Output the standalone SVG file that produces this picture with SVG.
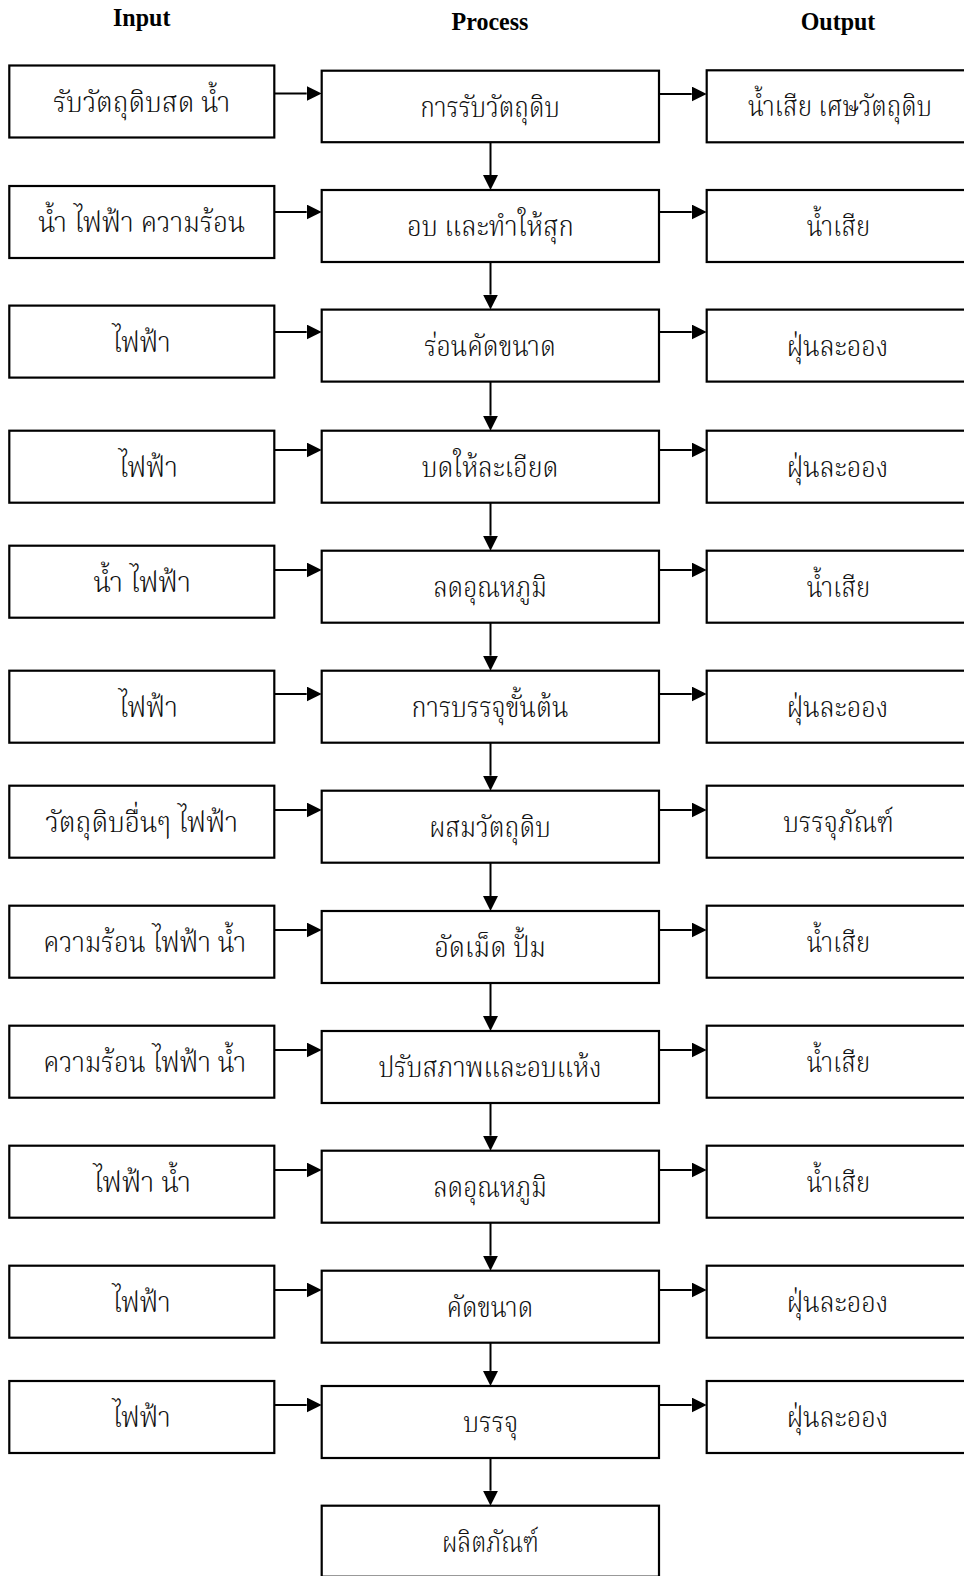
<svg xmlns="http://www.w3.org/2000/svg" width="964" height="1576" viewBox="0 0 964 1576">
<style>
.box{fill:#fff;stroke:#000;stroke-width:2.2}
.t{font-family:"Noto Serif Thai","Noto Sans Thai","Noto Sans",sans-serif;font-size:29px;font-weight:300;text-anchor:middle;fill:#111}
.h{font-family:"Liberation Serif","Times New Roman",serif;font-weight:bold;font-size:24px;text-anchor:middle;fill:#000}
.c{stroke:#000;stroke-width:2;fill:none}
</style>
<defs>
<marker id="ah" viewBox="0 0 15 15" refX="0" refY="7.5" markerWidth="15" markerHeight="15" markerUnits="userSpaceOnUse" orient="auto"><path d="M0,0 L15,7.5 L0,15 Z" fill="#000"/></marker>
</defs>
<rect width="964" height="1576" fill="#fff"/>
<g id="headers">
<text class="h" transform="translate(141.7,26) scale(1,1.09)">Input</text>
<text class="h" transform="translate(490,30) scale(1,1.09)">Process</text>
<text class="h" transform="translate(838,30) scale(1,1.09)">Output</text>
</g>
<g id="connectors">
<line class="c" x1="274.3" y1="93.5" x2="306.7" y2="93.5" marker-end="url(#ah)"/>
<line class="c" x1="659" y1="94" x2="691.7" y2="94" marker-end="url(#ah)"/>
<line class="c" x1="490.5" y1="142.7" x2="490.5" y2="175" marker-end="url(#ah)"/>
<line class="c" x1="274.3" y1="212" x2="306.7" y2="212" marker-end="url(#ah)"/>
<line class="c" x1="659" y1="212" x2="691.7" y2="212" marker-end="url(#ah)"/>
<line class="c" x1="490.5" y1="262" x2="490.5" y2="294.6" marker-end="url(#ah)"/>
<line class="c" x1="274.3" y1="332" x2="306.7" y2="332" marker-end="url(#ah)"/>
<line class="c" x1="659" y1="332" x2="691.7" y2="332" marker-end="url(#ah)"/>
<line class="c" x1="490.5" y1="381.6" x2="490.5" y2="415.7" marker-end="url(#ah)"/>
<line class="c" x1="274.3" y1="450" x2="306.7" y2="450" marker-end="url(#ah)"/>
<line class="c" x1="659" y1="450" x2="691.7" y2="450" marker-end="url(#ah)"/>
<line class="c" x1="490.5" y1="502.7" x2="490.5" y2="535.7" marker-end="url(#ah)"/>
<line class="c" x1="274.3" y1="570" x2="306.7" y2="570" marker-end="url(#ah)"/>
<line class="c" x1="659" y1="570" x2="691.7" y2="570" marker-end="url(#ah)"/>
<line class="c" x1="490.5" y1="622.7" x2="490.5" y2="655.7" marker-end="url(#ah)"/>
<line class="c" x1="274.3" y1="694" x2="306.7" y2="694" marker-end="url(#ah)"/>
<line class="c" x1="659" y1="694" x2="691.7" y2="694" marker-end="url(#ah)"/>
<line class="c" x1="490.5" y1="742.7" x2="490.5" y2="775.7" marker-end="url(#ah)"/>
<line class="c" x1="274.3" y1="810" x2="306.7" y2="810" marker-end="url(#ah)"/>
<line class="c" x1="659" y1="810" x2="691.7" y2="810" marker-end="url(#ah)"/>
<line class="c" x1="490.5" y1="862.7" x2="490.5" y2="896" marker-end="url(#ah)"/>
<line class="c" x1="274.3" y1="930" x2="306.7" y2="930" marker-end="url(#ah)"/>
<line class="c" x1="659" y1="930" x2="691.7" y2="930" marker-end="url(#ah)"/>
<line class="c" x1="490.5" y1="983" x2="490.5" y2="1016" marker-end="url(#ah)"/>
<line class="c" x1="274.3" y1="1050" x2="306.7" y2="1050" marker-end="url(#ah)"/>
<line class="c" x1="659" y1="1050" x2="691.7" y2="1050" marker-end="url(#ah)"/>
<line class="c" x1="490.5" y1="1103" x2="490.5" y2="1135.7" marker-end="url(#ah)"/>
<line class="c" x1="274.3" y1="1170" x2="306.7" y2="1170" marker-end="url(#ah)"/>
<line class="c" x1="659" y1="1170" x2="691.7" y2="1170" marker-end="url(#ah)"/>
<line class="c" x1="490.5" y1="1222.7" x2="490.5" y2="1255.7" marker-end="url(#ah)"/>
<line class="c" x1="274.3" y1="1290" x2="306.7" y2="1290" marker-end="url(#ah)"/>
<line class="c" x1="659" y1="1290" x2="691.7" y2="1290" marker-end="url(#ah)"/>
<line class="c" x1="490.5" y1="1342.7" x2="490.5" y2="1371" marker-end="url(#ah)"/>
<line class="c" x1="274.3" y1="1405" x2="306.7" y2="1405" marker-end="url(#ah)"/>
<line class="c" x1="659" y1="1405" x2="691.7" y2="1405" marker-end="url(#ah)"/>
<line class="c" x1="490.5" y1="1458" x2="490.5" y2="1490.7" marker-end="url(#ah)"/>
</g>
<g id="in1"><rect class="box" x="9.3" y="65.5" width="265" height="72"/><text class="t" x="141.7" y="111.7" textLength="177" lengthAdjust="spacingAndGlyphs">รับวัตถุดิบสด  น้ำ</text></g>
<g id="pr1"><rect class="box" x="321.7" y="70.7" width="337.3" height="71.5"/><text class="t" x="490" y="116.7" textLength="139.7" lengthAdjust="spacingAndGlyphs">การรับวัตถุดิบ</text></g>
<g id="out1"><rect class="box" x="706.7" y="70.3" width="264" height="72"/><text class="t" x="840" y="116.3" textLength="184" lengthAdjust="spacingAndGlyphs">น้ำเสีย เศษวัตถุดิบ</text></g>

<g id="in2"><rect class="box" x="9.3" y="186" width="265" height="72"/><text class="t" x="141.7" y="232" textLength="207" lengthAdjust="spacingAndGlyphs">น้ำ ไฟฟ้า ความร้อน</text></g>
<g id="pr2"><rect class="box" x="321.7" y="190" width="337.3" height="72"/><text class="t" x="490.5" y="236" textLength="167" lengthAdjust="spacingAndGlyphs">อบ และทำให้สุก</text></g>
<g id="out2"><rect class="box" x="706.7" y="190" width="264" height="72"/><text class="t" x="838.5" y="236" textLength="63.3" lengthAdjust="spacingAndGlyphs">น้ำเสีย</text></g>

<g id="in3"><rect class="box" x="9.3" y="305.6" width="265" height="72"/><text class="t" x="141.7" y="351.6" textLength="58.3" lengthAdjust="spacingAndGlyphs">ไฟฟ้า</text></g>
<g id="pr3"><rect class="box" x="321.7" y="309.6" width="337.3" height="72"/><text class="t" x="490" y="355.6" textLength="131.7" lengthAdjust="spacingAndGlyphs">ร่อนคัดขนาด</text></g>
<g id="out3"><rect class="box" x="706.7" y="309.6" width="264" height="72"/><text class="t" x="837.5" y="355.6" textLength="101.7" lengthAdjust="spacingAndGlyphs">ฝุ่นละออง</text></g>

<g id="in4"><rect class="box" x="9.3" y="430.7" width="265" height="72"/><text class="t" x="148.3" y="476.7" textLength="59.3" lengthAdjust="spacingAndGlyphs">ไฟฟ้า</text></g>
<g id="pr4"><rect class="box" x="321.7" y="430.7" width="337.3" height="72"/><text class="t" x="490" y="476.7" textLength="136.7" lengthAdjust="spacingAndGlyphs">บดให้ละเอียด</text></g>
<g id="out4"><rect class="box" x="706.7" y="430.7" width="264" height="72"/><text class="t" x="837.5" y="476.7" textLength="101.7" lengthAdjust="spacingAndGlyphs">ฝุ่นละออง</text></g>

<g id="in5"><rect class="box" x="9.3" y="545.7" width="265" height="72"/><text class="t" x="142.2" y="591.7" textLength="97.5" lengthAdjust="spacingAndGlyphs">น้ำ  ไฟฟ้า</text></g>
<g id="pr5"><rect class="box" x="321.7" y="550.7" width="337.3" height="72"/><text class="t" x="490" y="596.7" textLength="113.6" lengthAdjust="spacingAndGlyphs">ลดอุณหภูมิ</text></g>
<g id="out5"><rect class="box" x="706.7" y="550.7" width="264" height="72"/><text class="t" x="838.5" y="596.7" textLength="63.3" lengthAdjust="spacingAndGlyphs">น้ำเสีย</text></g>

<g id="in6"><rect class="box" x="9.3" y="670.7" width="265" height="72"/><text class="t" x="148.3" y="716.7" textLength="59.3" lengthAdjust="spacingAndGlyphs">ไฟฟ้า</text></g>
<g id="pr6"><rect class="box" x="321.7" y="670.7" width="337.3" height="72"/><text class="t" x="490" y="716.7" textLength="156.8" lengthAdjust="spacingAndGlyphs">การบรรจุขั้นต้น</text></g>
<g id="out6"><rect class="box" x="706.7" y="670.7" width="264" height="72"/><text class="t" x="837.5" y="716.7" textLength="101.7" lengthAdjust="spacingAndGlyphs">ฝุ่นละออง</text></g>

<g id="in7"><rect class="box" x="9.3" y="785.7" width="265" height="72"/><text class="t" x="141.7" y="831.7" textLength="193" lengthAdjust="spacingAndGlyphs">วัตถุดิบอื่นๆ  ไฟฟ้า</text></g>
<g id="pr7"><rect class="box" x="321.7" y="790.7" width="337.3" height="72"/><text class="t" x="490" y="836.7" textLength="121.6" lengthAdjust="spacingAndGlyphs">ผสมวัตถุดิบ</text></g>
<g id="out7"><rect class="box" x="706.7" y="785.7" width="264" height="72"/><text class="t" x="838.6" y="831.7" textLength="110.6" lengthAdjust="spacingAndGlyphs">บรรจุภัณฑ์</text></g>

<g id="in8"><rect class="box" x="9.3" y="905.7" width="265" height="72"/><text class="t" x="144.7" y="951.7" textLength="203" lengthAdjust="spacingAndGlyphs">ความร้อน ไฟฟ้า น้ำ</text></g>
<g id="pr8"><rect class="box" x="321.7" y="911" width="337.3" height="72"/><text class="t" x="490" y="957" textLength="111.6" lengthAdjust="spacingAndGlyphs">อัดเม็ด  ปั้ม</text></g>
<g id="out8"><rect class="box" x="706.7" y="905.7" width="264" height="72"/><text class="t" x="838.5" y="951.7" textLength="63.3" lengthAdjust="spacingAndGlyphs">น้ำเสีย</text></g>

<g id="in9"><rect class="box" x="9.3" y="1025.7" width="265" height="72"/><text class="t" x="144.7" y="1071.7" textLength="203" lengthAdjust="spacingAndGlyphs">ความร้อน ไฟฟ้า น้ำ</text></g>
<g id="pr9"><rect class="box" x="321.7" y="1031" width="337.3" height="72"/><text class="t" x="490" y="1077" textLength="223.2" lengthAdjust="spacingAndGlyphs">ปรับสภาพและอบแห้ง</text></g>
<g id="out9"><rect class="box" x="706.7" y="1025.7" width="264" height="72"/><text class="t" x="838.5" y="1071.7" textLength="63.3" lengthAdjust="spacingAndGlyphs">น้ำเสีย</text></g>

<g id="in10"><rect class="box" x="9.3" y="1145.7" width="265" height="72"/><text class="t" x="142.2" y="1191.7" textLength="97.5" lengthAdjust="spacingAndGlyphs">ไฟฟ้า  น้ำ</text></g>
<g id="pr10"><rect class="box" x="321.7" y="1150.7" width="337.3" height="72"/><text class="t" x="490" y="1196.7" textLength="113.6" lengthAdjust="spacingAndGlyphs">ลดอุณหภูมิ</text></g>
<g id="out10"><rect class="box" x="706.7" y="1145.7" width="264" height="72"/><text class="t" x="838.5" y="1191.7" textLength="63.3" lengthAdjust="spacingAndGlyphs">น้ำเสีย</text></g>

<g id="in11"><rect class="box" x="9.3" y="1265.7" width="265" height="72"/><text class="t" x="141.7" y="1311.7" textLength="58.3" lengthAdjust="spacingAndGlyphs">ไฟฟ้า</text></g>
<g id="pr11"><rect class="box" x="321.7" y="1270.7" width="337.3" height="72"/><text class="t" x="490" y="1316.7" textLength="86.4" lengthAdjust="spacingAndGlyphs">คัดขนาด</text></g>
<g id="out11"><rect class="box" x="706.7" y="1265.7" width="264" height="72"/><text class="t" x="837.5" y="1311.7" textLength="101.7" lengthAdjust="spacingAndGlyphs">ฝุ่นละออง</text></g>

<g id="in12"><rect class="box" x="9.3" y="1381" width="265" height="72"/><text class="t" x="141.7" y="1427" textLength="58.3" lengthAdjust="spacingAndGlyphs">ไฟฟ้า</text></g>
<g id="pr12"><rect class="box" x="321.7" y="1386" width="337.3" height="72"/><text class="t" x="490.8" y="1432" textLength="55" lengthAdjust="spacingAndGlyphs">บรรจุ</text></g>
<g id="out12"><rect class="box" x="706.7" y="1381" width="264" height="72"/><text class="t" x="837.5" y="1427" textLength="101.7" lengthAdjust="spacingAndGlyphs">ฝุ่นละออง</text></g>

<g id="product"><rect class="box" x="321.7" y="1505.7" width="337.3" height="71"/><text class="t" x="490.5" y="1551.7" textLength="97" lengthAdjust="spacingAndGlyphs">ผลิตภัณฑ์</text></g>
</svg>
